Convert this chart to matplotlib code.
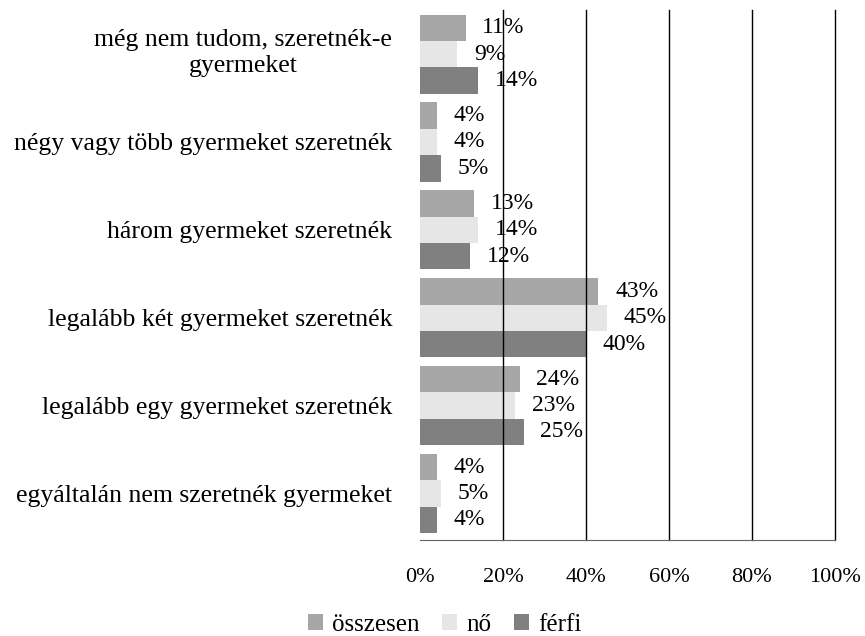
import matplotlib
matplotlib.use("Agg")
import matplotlib.pyplot as plt
import matplotlib.transforms as mtransforms
import numpy as np

plt.rcParams['font.family'] = ['Liberation Serif', 'DejaVu Serif']

categories = ["még nem tudom, szeretnék-e\ngyermeket",
              "négy vagy több gyermeket szeretnék",
              "három gyermeket szeretnék",
              "legalább két gyermeket szeretnék",
              "legalább egy gyermeket szeretnék",
              "egyáltalán nem szeretnék gyermeket"]
osszesen = [11, 4, 13, 43, 24, 4]
no = [9, 4, 14, 45, 23, 5]
ferfi = [14, 5, 12, 40, 25, 4]
series_names = ["összesen", "nő", "férfi"]
colors = ["#a6a6a6", "#e6e6e6", "#808080"]

fig = plt.figure(figsize=(8.65, 6.36), dpi=100)
ax = fig.add_axes([0.4855, 0.151, 0.4798, 0.833])

y = np.arange(len(categories))
h = 0.3
for i, (vals, name, c) in enumerate(zip([osszesen, no, ferfi], series_names, colors)):
    pos = y + (i - 1) * h
    ax.barh(pos, np.array(vals) / 100, height=h, color=c, label=name, zorder=1)
    for p, v in zip(pos, vals):
        ax.annotate(f"{v}%", (v / 100, p), xytext=(12, 0), textcoords="offset points",
                    va="center", ha="left", fontsize=17, zorder=3)

ax.set_xlim(0, 1)
ax.set_ylim(5.53, -0.5)
ax.set_xticks(np.arange(0, 1.01, 0.2))
ax.set_xticklabels([f"{int(t)}%" for t in np.arange(0, 101, 20)], fontsize=16)
ax.set_yticks(y)
ax.set_yticklabels(categories, fontsize=18.5, multialignment="center", linespacing=1.25)
ax.tick_params(axis="both", length=0)
ax.tick_params(axis="y", pad=20)
ax.tick_params(axis="x", pad=20)
# first (two-line) label sits a bit higher in the original
first = ax.get_yticklabels()[0]
first.set_transform(first.get_transform() +
                    mtransforms.ScaledTranslation(0, 4 / 72, fig.dpi_scale_trans))
for x in np.arange(0.2, 1.01, 0.2):
    ax.axvline(x, color="black", lw=1, zorder=2, clip_on=False)
for s in ["top", "right", "left"]:
    ax.spines[s].set_visible(False)
ax.spines["bottom"].set_color("#666666")

fig.legend(loc="center", bbox_to_anchor=(0.514, 0.018), ncol=3, frameon=False,
           fontsize=18, handlelength=0.6, handleheight=0.6, handletextpad=0.36,
           columnspacing=0.92)

fig.savefig("out.png", dpi=100)
